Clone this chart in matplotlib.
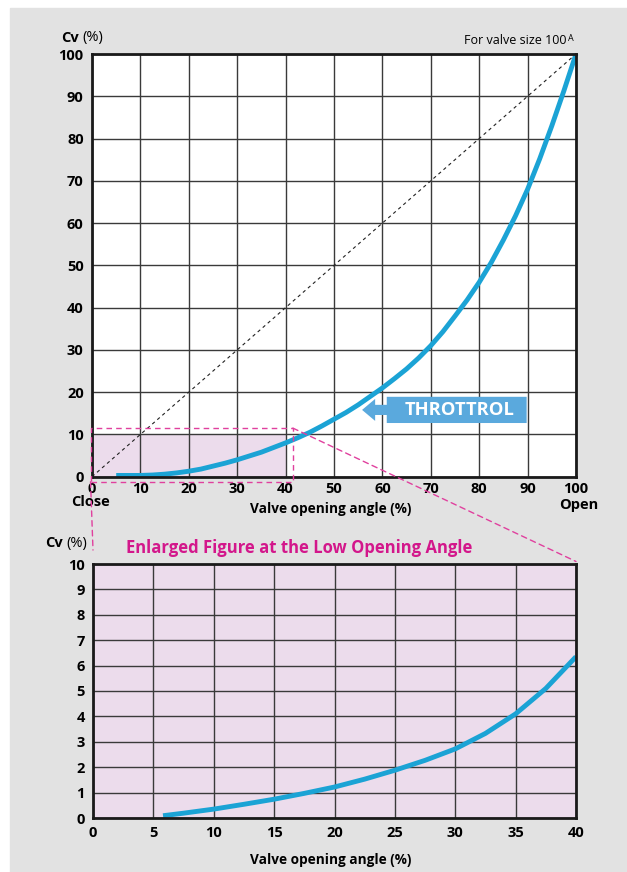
import matplotlib
matplotlib.use("Agg")
import matplotlib.pyplot as plt
from matplotlib.patches import Rectangle, Polygon, ConnectionPatch
from matplotlib.transforms import blended_transform_factory

# ---- data ----
top_x = [5, 7.5, 10, 12.5, 15, 17.5, 20, 22.5, 25, 27.5, 30, 32.5, 35, 37.5, 40, 42.5, 45,
         47.5, 50, 52.5, 55, 57.5, 60, 62.5, 65, 67.5, 70, 72.5, 75, 77.5, 80, 82.5, 85,
         87.5, 90, 92.5, 95, 97.5, 100]
top_cv = [0.3, 0.3, 0.3, 0.4, 0.6, 0.9, 1.3, 1.8, 2.5, 3.2, 4.0, 4.9, 5.8, 6.9, 8.0, 9.2, 10.5,
          12.0, 13.6, 15.2, 17.0, 19.0, 21.0, 23.2, 25.5, 28.1, 31.0, 34.3, 38.0, 41.8, 46.0,
          50.7, 56.0, 61.7, 68.0, 75.2, 83.0, 91.3, 100.0]
low_x = [5.8, 7.5, 10, 12.5, 15, 17.5, 20, 22.5, 25, 27.5, 30, 32.5, 35, 37.5, 40]
low_cv = [0.09, 0.19, 0.35, 0.54, 0.74, 0.97, 1.22, 1.53, 1.88, 2.27, 2.72, 3.33, 4.1, 5.1, 6.35]
top_xticks = list(range(0, 101, 10))
top_yticks = list(range(0, 101, 10))
low_xticks = list(range(0, 41, 5))
low_yticks = list(range(0, 11, 1))
series_label = "THROTTROL"

FONT = "Open Sans"
plt.rcParams['font.family'] = [FONT, 'DejaVu Sans']

CURVE = '#1ba3d5'
MAG = '#d3178b'
MAGL = '#e0409e'
SHADE = '#ecdcec'
GRID = '#3a3a3a'
TFS = 10.5

fig = plt.figure(figsize=(6.27, 8.72), dpi=100)
fig.patches.append(Rectangle((10/627, 0), 1, 1 - 8/872, transform=fig.transFigure,
                             color='#e2e2e2', zorder=-10))

def style_axes(ax):
    ax.grid(True, color=GRID, lw=1.0)
    ax.tick_params(length=0, labelsize=TFS, pad=4)
    for lab in ax.get_xticklabels() + ax.get_yticklabels():
        lab.set_fontweight('bold')
    ax.tick_params(axis='y', pad=6)
    for sp in ax.spines.values():
        sp.set_linewidth(2.0)
        sp.set_color('#1a1a1a')
        sp.set_zorder(5)

# ---- top chart ----
ax1 = fig.add_axes([92/627, 1 - 476.7/872, 484/627, 422.7/872])
ax1.set_facecolor('white')
ax1.set_xlim(0, 100)
ax1.set_ylim(0, 100)
ax1.set_xticks(top_xticks)
ax1.set_yticks(top_yticks)
style_axes(ax1)

ax1.fill_between([0, 40], 0, 10, color=SHADE, zorder=0.5, lw=0)
ax1.plot([0, 100], [0, 100], color='#222222', lw=0.8, ls=(0, (3, 3)), zorder=3)
ax1.plot(top_x, top_cv, color=CURVE, lw=3.5, solid_capstyle='butt',
         solid_joinstyle='round', zorder=4, clip_on=False)
ax1.add_patch(Rectangle((-0.3, -1.2), 41.8, 12.7, fill=False, ec=MAGL, lw=1.0,
                        ls=(0, (4, 3)), clip_on=False, zorder=6))

arrow = [(55.8, 15.8), (58.5, 18.4), (58.5, 17.0), (60.9, 17.0), (60.9, 18.9),
         (89.8, 18.9), (89.8, 12.7), (60.9, 12.7), (60.9, 14.6), (58.5, 14.6),
         (58.5, 13.2)]
ax1.add_patch(Polygon(arrow, closed=True, color='#5aa9dd', zorder=6, lw=0))
ax1.text(76, 15.8, series_label, color='white', fontsize=13.2, fontweight='bold',
         ha='center', va='center', zorder=7)

bt = blended_transform_factory(ax1.transData, ax1.transAxes)
ax1.text(-0.4, -0.060, 'Close', transform=bt, ha='center', va='center',
         fontsize=TFS, fontweight='bold')
ax1.text(100.6, -0.066, 'Open', transform=bt, ha='center', va='center',
         fontsize=TFS, fontweight='bold')

fig.text(331/627, 1 - 509/872, 'Valve opening angle (%)', ha='center', va='center',
         fontsize=9.8, fontweight='bold')
fig.text(61/627, 1 - 38/872, 'Cv', ha='left', va='center', fontsize=10.5, fontweight='bold')
fig.text(82/627, 1 - 38/872, '(%)', ha='left', va='center', fontsize=10.5)
fig.text(567/627, 1 - 40/872, 'For valve size 100', ha='right', va='center', fontsize=9)
fig.text(568/627, 1 - 38.5/872, 'A', ha='left', va='center', fontsize=6.5)

# ---- bottom chart ----
ax2 = fig.add_axes([93/627, 1 - 818/872, 483/627, 254/872])
ax2.set_facecolor(SHADE)
ax2.set_xlim(0, 40)
ax2.set_ylim(0, 10)
ax2.set_xticks(low_xticks)
ax2.set_yticks(low_yticks)
style_axes(ax2)
ax2.tick_params(axis='x', pad=6)
ax2.plot(low_x, low_cv, color=CURVE, lw=3.5, solid_capstyle='butt',
         solid_joinstyle='round', zorder=4)

fig.text(331/627, 1 - 860/872, 'Valve opening angle (%)', ha='center', va='center',
         fontsize=9.8, fontweight='bold')
fig.text(45/627, 1 - 543/872, 'Cv', ha='left', va='center', fontsize=10.5, fontweight='bold')
fig.text(66/627, 1 - 543/872, '(%)', ha='left', va='center', fontsize=10.5)
fig.text(126/627, 1 - 548/872, 'Enlarged Figure at the Low Opening Angle', ha='left',
         va='center', fontsize=12, fontweight='bold', color=MAG)

# ---- connector lines ----
for a, b in [((-0.3, -1.2), (0, 10.55)), ((41.5, 11.5), (40, 10.1))]:
    cp = ConnectionPatch(xyA=a, coordsA=ax1.transData, xyB=b, coordsB=ax2.transData,
                         color=MAGL, lw=1.0, ls=(0, (4, 3)), zorder=6)
    fig.add_artist(cp)

fig.savefig('out.png', dpi=100)
